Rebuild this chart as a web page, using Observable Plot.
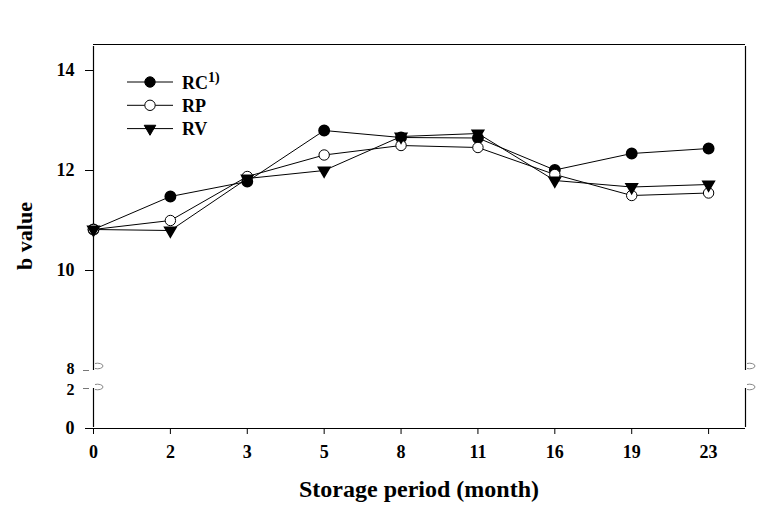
<!DOCTYPE html>
<html><head><meta charset="utf-8">
<script src="https://cdn.jsdelivr.net/npm/d3@7"></script>
<script src="https://cdn.jsdelivr.net/npm/@observablehq/plot@0.6"></script>
<style>
body{margin:0;background:#fff;}
svg{font-family:"Liberation Serif","DejaVu Serif",serif;}
</style>
</head><body><div id="chart"></div>
<script>
const months = ["0","2","3","5","8","11","16","19","23"];
const rc = [10.82,11.48,11.78,12.80,12.66,12.65,12.01,12.34,12.44];
const rp = [10.82,11.00,11.88,12.31,12.50,12.46,11.92,11.50,11.55];
const rv = [10.82,10.80,11.84,12.00,12.68,12.74,11.80,11.67,11.72];
const seriesNames = ["RC","RP","RV"];
const yTicks = [0,10,12,14];
const yBreakTicks = [2,8];

const triDown = {
  draw(context, size) {
    const s3 = Math.sqrt(3);
    const y = -Math.sqrt(size / (s3 * 3));
    context.moveTo(0, -y * 2);
    context.lineTo(-s3 * y, y);
    context.lineTo(s3 * y, y);
    context.closePath();
  }
};

const seriesVals = [rc, rp, rv];
const data = [];
seriesNames.forEach((s, k) => seriesVals[k].forEach((v, i) => data.push({series: s, i, value: v})));
const bySeries = s => data.filter(d => d.series === s);

const xMax = 8.48, yTop = 14.52;

const plot = Plot.plot({
  width: 778, height: 514,
  marginLeft: 93, marginRight: 33, marginTop: 44, marginBottom: 86,
  style: {fontFamily: "Liberation Serif, serif", background: "#fff"},
  x: {type: "linear", domain: [0, xMax], axis: null},
  y: {type: "linear", domain: [0, 2, 8, yTop], range: [428, 388, 370, 44], axis: null},
  marks: [
    Plot.ruleX([0, xMax], {y1: 8, y2: yTop, stroke: "black", strokeWidth: 1.2, insetBottom: -2}),
    Plot.ruleX([0, xMax], {y1: 0, y2: 2, stroke: "black", strokeWidth: 1.2, insetTop: -1}),
    Plot.ruleY([yTop], {x1: 0, x2: xMax, stroke: "black", strokeWidth: 1.2}),
    Plot.ruleY([0], {x1: 0, x2: xMax, stroke: "black", strokeWidth: 1.2}),
    Plot.axisX({ticks: d3.range(months.length), tickFormat: i => months[i], tickSize: 6, tickPadding: 11,
      fontWeight: "bold", label: null, stroke: "black"}),
    Plot.axisY({ticks: yTicks, tickSize: 8, tickPadding: 11, fontWeight: "bold", label: null, stroke: "black"}),
    Plot.axisY({ticks: yBreakTicks, tickSize: 10, tickPadding: 9, fontWeight: "bold", label: null,
      stroke: "#777", strokeDasharray: "0,4,5"}),
    Plot.line(data, {x: "i", y: "value", z: "series", stroke: "black", strokeWidth: 1}),
    Plot.dot(bySeries("RC"), {x: "i", y: "value", r: 5.2, fill: "black", stroke: "black"}),
    Plot.dot(bySeries("RP"), {x: "i", y: "value", r: 5.2, fill: "white", stroke: "black", strokeWidth: 1}),
    Plot.dot(bySeries("RV"), {x: "i", y: "value", r: 4.3, symbol: triDown, fill: "black", stroke: "black"})
  ]
});
document.getElementById("chart").appendChild(plot);

const svg = d3.select(plot);
// tick labels: large bold serif
svg.selectAll("text").filter(function() {
  return /^(\d+)$/.test(this.textContent);
}).style("font-size", "18px").style("font-weight", "bold").style("font-family", "'Liberation Serif', serif");
// the two labels beside the axis break sit close together: slightly smaller, nudged apart
svg.selectAll('g[aria-label="y-axis tick label"] text').filter(function() {
  return this.textContent === "8" || this.textContent === "2";
}).each(function() {
  const t = d3.select(this);
  t.style("font-size", "16px");
  const cur = t.attr("transform") || "";
  t.attr("transform", cur + (this.textContent === "8" ? " translate(0,-1.5)" : " translate(0,1.5)"));
});

const xs = plot.scale("x"), ys = plot.scale("y");
const xL = xs.apply(0), xR = xs.apply(xMax);
const yU = ys.apply(8), yLo = ys.apply(2);
// break marks
[xL, xR].forEach(x => {
  [yU - 4, yLo - 1].forEach(y => {
    svg.append("path")
      .attr("d", `M${x + 2},${y - 2.5} A5.5,2.8 0 1 1 ${x + 2},${y + 2.5}`)
      .attr("fill", "none").attr("stroke", "#888").attr("stroke-width", 1);
  });
});
// axis titles
svg.append("text").attr("x", (xL + xR) / 2).attr("y", 497).attr("text-anchor", "middle")
  .attr("font-size", 24).attr("font-weight", "bold").text("Storage period (month)");
svg.append("text").attr("transform", `translate(32,236) rotate(-90)`).attr("text-anchor", "middle")
  .attr("font-size", 22).attr("font-weight", "bold").text("b value");
// legend
const legRows = [
  {name: "RC", sup: "1)", sym: d3.symbolCircle, fill: "black", r: 5.2},
  {name: "RP", sup: "", sym: d3.symbolCircle, fill: "white", r: 5.2},
  {name: "RV", sup: "", sym: triDown, fill: "black", r: 4.3}
];
const leg = svg.append("g");
legRows.forEach((d, k) => {
  const y = 82 + k * 23.3;
  leg.append("line").attr("x1", 127).attr("x2", 173).attr("y1", y).attr("y2", y).attr("stroke", "black");
  leg.append("path").attr("transform", `translate(150,${y})`)
    .attr("d", d3.symbol(d.sym, Math.PI * d.r * d.r)())
    .attr("fill", d.fill).attr("stroke", "black");
  const t = leg.append("text").attr("x", 182).attr("y", y + 6.5).attr("text-anchor", "start")
    .attr("font-size", 18).attr("font-weight", "bold").text(d.name);
  if (d.sup) t.append("tspan").attr("dy", -7).attr("font-size", 14).text(d.sup);
});
</script>
</body></html>
